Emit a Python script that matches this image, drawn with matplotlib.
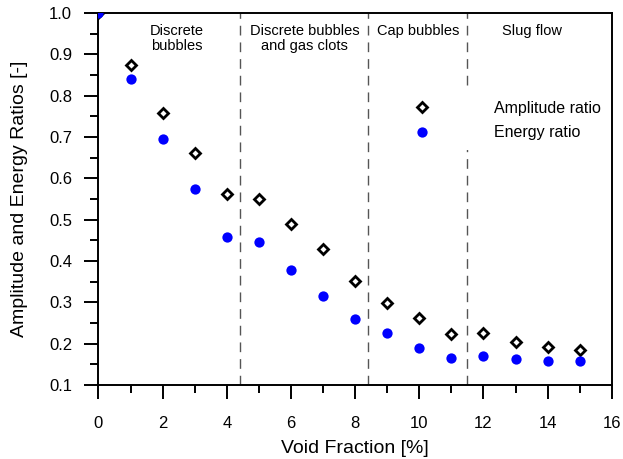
import matplotlib
matplotlib.use('Agg')
import matplotlib.pyplot as plt
from matplotlib.ticker import MultipleLocator, FormatStrFormatter

plt.rcParams['font.family'] = ['Liberation Sans', 'DejaVu Sans']

void_fraction = [0, 1, 2, 3, 4, 5, 6, 7, 8, 9, 10, 11, 12, 13, 14, 15]
amplitude_ratio = [1.0, 0.875, 0.757, 0.661, 0.563, 0.549, 0.490, 0.429, 0.351,
                   0.299, 0.262, 0.224, 0.227, 0.204, 0.192, 0.184]
energy_ratio = [1.0, 0.839, 0.696, 0.573, 0.459, 0.445, 0.378, 0.315, 0.260,
                0.227, 0.190, 0.165, 0.170, 0.163, 0.159, 0.158]

regime_bounds = [4.4, 8.4, 11.5]
regime_labels = ['Discrete\nbubbles', 'Discrete bubbles\nand gas clots', 'Cap bubbles', 'Slug flow']
regime_label_x = [2.45, 6.42, 9.97, 13.5]

fig = plt.figure(figsize=(6.23, 4.59), dpi=100)
ax = fig.add_axes([0.158, 0.161, 0.824, 0.811])

for xb in regime_bounds:
    ax.axvline(xb, color='#555555', lw=1.0, ls=(0, (7, 5)), zorder=1)

for xl, lab in zip(regime_label_x, regime_labels):
    ax.text(xl, 0.972, lab, ha='center', va='top', fontsize=10.5, linespacing=1.05)

ax.plot(void_fraction, amplitude_ratio, ls='none', marker='D', ms=5.0,
        mfc='white', mec='black', mew=2.0, label='Amplitude ratio', zorder=3)
ax.plot(void_fraction, energy_ratio, ls='none', marker='o', ms=7.4,
        mfc='blue', mec='blue', mew=0, label='Energy ratio', zorder=4)

ax.set_xlim(0, 16)
ax.set_ylim(0.1, 1.0)
ax.xaxis.set_major_locator(MultipleLocator(2))
ax.xaxis.set_minor_locator(MultipleLocator(1))
ax.yaxis.set_major_locator(MultipleLocator(0.1))
ax.yaxis.set_minor_locator(MultipleLocator(0.05))
ax.tick_params(which='major', direction='out', length=10, width=1.4, labelsize=12)
ax.tick_params(which='minor', direction='out', length=6, width=1.4)
ax.tick_params(axis='x', which='major', pad=12)
ax.tick_params(axis='y', which='major', pad=9)
ax.yaxis.set_major_formatter(FormatStrFormatter('%.1f'))
for s in ax.spines.values():
    s.set_linewidth(1.4)

ax.set_xlabel('Void Fraction [%]', fontsize=14, labelpad=7)
ax.set_ylabel('Amplitude and Energy Ratios [-]', fontsize=14, labelpad=15)

leg = ax.legend(loc='upper left', bbox_to_anchor=(0.58, 0.79), borderaxespad=0,
                frameon=True, fancybox=False, edgecolor='none', facecolor='white',
                framealpha=1, fontsize=11.5, handletextpad=3.5, numpoints=1,
                borderpad=0.6, labelspacing=0.6)

fig.savefig('out.png', dpi=100)
